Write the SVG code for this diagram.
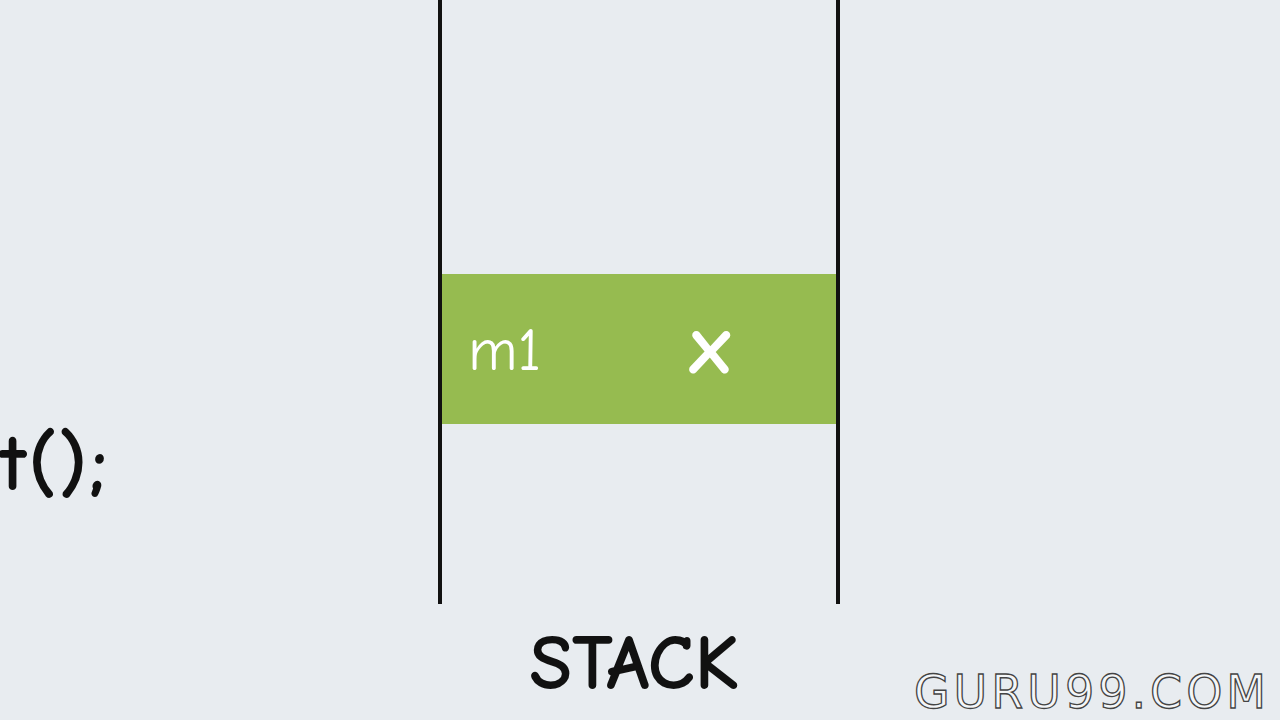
<svg xmlns="http://www.w3.org/2000/svg" width="1280" height="720" viewBox="0 0 1280 720">
<style>
.hand{font-family:"Comic Neue","DejaVu Sans","Liberation Sans",sans-serif;}
.wall{stroke:#111;stroke-width:4;}
</style>
<rect x="0" y="0" width="1280" height="720" fill="#e8ecf0"/>
<g id="code">
<text class="hand" x="0" y="490" font-size="80" font-weight="bold" fill="#111" letter-spacing="2">t();</text>
</g>
<g id="stack">
<line class="wall" x1="440" y1="0" x2="440" y2="604"/>
<line class="wall" x1="838" y1="0" x2="838" y2="604"/>
<text class="hand" x="634" y="689" font-size="78" font-weight="bold" fill="#111" text-anchor="middle">STACK</text>
</g>
<g id="frame-m1">
<rect x="442" y="274" width="394" height="150" fill="#96bb50"/>
<text class="hand" x="468" y="370" font-size="60" fill="#fff">m1</text>
<text class="hand" x="710" y="373" font-size="84" font-weight="bold" fill="#fff" text-anchor="middle">x</text>
</g>
<g id="watermark">
<text x="1092" y="708" font-family="'DejaVu Sans',sans-serif" font-size="46" fill="#f4f6f8" stroke="#444" stroke-width="1.3" letter-spacing="4" text-anchor="middle">GURU99.COM</text>
</g>
</svg>
